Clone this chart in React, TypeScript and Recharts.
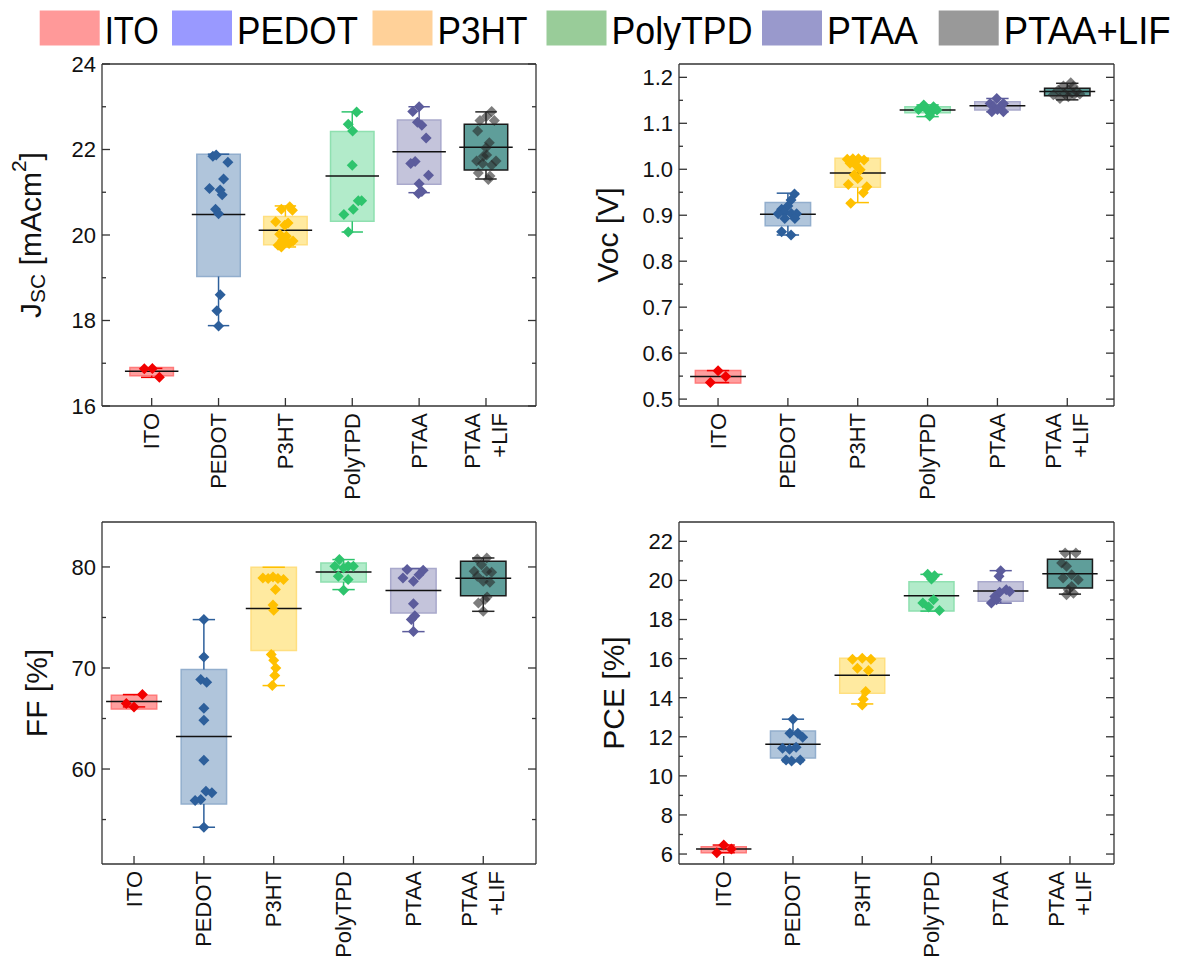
import React from 'react';
import { ComposedChart, XAxis, YAxis, Scatter, ReferenceArea, ReferenceLine, Label } from 'recharts';

const FONT = '"Liberation Sans", Arial, sans-serif';

const categories = ['ITO', 'PEDOT', 'P3HT', 'PolyTPD', 'PTAA', 'PTAA+LIF'];
const tickLabels = [['ITO'], ['PEDOT'], ['P3HT'], ['PolyTPD'], ['PTAA'], ['PTAA', '+LIF']];
const legendColors = ['#FF9999', '#9999FF', '#FFD199', '#99CC99', '#9999CC', '#999999'];
const pointColors = ['#F20000', '#2D5F9B', '#FFC000', '#2EC46D', '#5C5C9C', '#262626'];
const pointOpacity = [1, 1, 1, 1, 1, 0.6];
const boxFills = ['#FF9E9E', '#B0C5DB', '#FFEAA0', '#B2EBCA', '#C4C4DB', '#5F9E9A'];
const boxStrokes = ['#FF7A7A', '#92AECD', '#FFDF80', '#8FE0B0', '#A9A9CC', '#1A1A1A'];

// [lower whisker, Q1, median, Q3, upper whisker]
const jscBoxes = [
  [16.67, 16.71, 16.81, 16.9, 16.88],
  [17.88, 19.03, 20.48, 21.89, 21.89],
  [19.72, 19.77, 20.11, 20.43, 20.68],
  [20.07, 20.32, 21.38, 22.42, 22.88],
  [20.99, 21.19, 21.95, 22.69, 23.0],
  [21.31, 21.52, 22.05, 22.59, 22.88],
];
// [offset from category centre, value]
const jscPoints = [
  [[-0.11, 16.87], [0.01, 16.88], [0.115, 16.67]],
  [[-0.085, 21.84], [-0.035, 21.87], [0.14, 21.7], [0.075, 21.31], [-0.135, 21.09], [0.025, 21.05], [0.055, 20.94], [-0.045, 20.6], [0, 20.5], [0.025, 18.6], [-0.025, 18.23], [0, 17.87]],
  [[-0.06, 20.6], [0.065, 20.66], [0.105, 20.58], [-0.145, 20.31], [0.04, 20.28], [-0.01, 20.23], [-0.085, 20.02], [0.015, 19.97], [-0.045, 19.88], [0.115, 19.86], [-0.11, 19.76], [0.055, 19.8], [-0.06, 19.72], [-0.01, 19.82]],
  [[0.065, 22.88], [-0.06, 22.59], [0.005, 22.43], [0, 21.63], [0.09, 20.8], [0.14, 20.8], [0.015, 20.6], [-0.125, 20.48], [-0.06, 20.07]],
  [[0, 23.0], [-0.095, 22.89], [-0.025, 22.64], [0.04, 22.57], [0.105, 22.27], [-0.06, 21.72], [-0.125, 21.67], [0.14, 21.4], [0, 21.2], [0.04, 21.02], [-0.01, 20.97]],
  [[0.085, 22.89], [-0.09, 22.68], [0.01, 22.78], [0.125, 22.68], [-0.125, 22.43], [0.05, 22.16], [0, 22.04], [-0.04, 21.84], [0.01, 21.87], [-0.14, 21.73], [0.15, 21.73], [-0.05, 21.67], [0.085, 21.63], [-0.115, 21.45], [0.06, 21.38], [0.035, 21.3]],
];

const vocBoxes = [
  [0.536, 0.535, 0.549, 0.562, 0.562],
  [0.857, 0.877, 0.902, 0.9275, 0.948],
  [0.9275, 0.961, 0.992, 1.024, 1.024],
  [1.1145, 1.123, 1.129, 1.136, 1.14],
  [1.125, 1.129, 1.138, 1.147, 1.154],
  [1.151, 1.16, 1.169, 1.176, 1.187],
];
const vocPoints = [
  [[0, 0.5616], [0.11, 0.549], [-0.11, 0.536]],
  [[0.095, 0.946], [0.045, 0.933], [0, 0.92], [-0.09, 0.913], [-0.045, 0.906], [0.05, 0.904], [-0.14, 0.903], [0.125, 0.903], [-0.045, 0.893], [0.1, 0.893], [-0.09, 0.864], [0.045, 0.857]],
  [[-0.15, 1.022], [-0.07, 1.023], [0.01, 1.023], [0.09, 1.02], [-0.11, 1.013], [-0.025, 1.009], [0.035, 0.999], [-0.05, 0.988], [0, 0.98], [-0.135, 0.967], [0.13, 0.962], [0.08, 0.949], [-0.1, 0.926]],
  [[-0.055, 1.14], [0.085, 1.136], [-0.13, 1.13], [-0.01, 1.13], [0.135, 1.129], [0.04, 1.122], [0.03, 1.116]],
  [[-0.01, 1.154], [-0.105, 1.143], [0.085, 1.143], [-0.055, 1.136], [0.04, 1.135], [-0.08, 1.125], [0.085, 1.125], [0, 1.13]],
  [[0.05, 1.188], [-0.055, 1.181], [0.085, 1.18], [-0.13, 1.172], [0.015, 1.172], [0.135, 1.169], [-0.2, 1.162], [-0.035, 1.164], [0.095, 1.162], [-0.105, 1.154], [0.015, 1.158], [0.18, 1.164]],
];

const ffBoxes = [
  [66.15, 65.95, 66.68, 67.3, 67.37],
  [54.24, 56.55, 63.21, 69.84, 74.79],
  [68.26, 71.72, 75.88, 79.97, 79.97],
  [77.76, 78.52, 79.51, 80.4, 80.73],
  [73.6, 75.45, 77.66, 79.84, 79.84],
  [75.61, 77.16, 78.88, 80.56, 80.89],
];
const ffPoints = [
  [[0.12, 67.37], [-0.11, 66.48], [0, 66.15]],
  [[0, 74.79], [0, 71.1], [-0.045, 68.85], [0.04, 68.59], [0, 66.02], [0, 64.83], [0, 60.87], [0.03, 57.8], [0.115, 57.64], [-0.045, 56.98], [-0.125, 56.88], [0, 54.24]],
  [[-0.155, 78.91], [-0.08, 78.85], [-0.01, 79.01], [0.06, 78.85], [0.14, 78.75], [0.025, 77.76], [-0.01, 76.24], [0, 75.71], [-0.035, 71.33], [0, 70.77], [0.03, 70.01], [0.015, 69.25], [-0.02, 68.26]],
  [[-0.06, 80.73], [-0.125, 80.07], [0.065, 80.07], [0.14, 80.07], [0, 79.9], [-0.075, 79.08], [0.065, 78.75], [0, 77.69]],
  [[-0.09, 79.74], [0.14, 79.67], [0.08, 79.24], [-0.15, 78.91], [0, 78.58], [0, 76.37], [0.02, 75.18], [-0.03, 74.79], [0, 73.6]],
  [[-0.085, 80.79], [0.05, 80.89], [-0.025, 80.23], [-0.13, 79.57], [0.12, 79.47], [0.05, 79.57], [-0.085, 79.08], [0, 78.58], [0.095, 78.48], [0.055, 77.03], [0.025, 76.77], [-0.07, 76.44], [0, 75.61]],
];

const pceBoxes = [
  [6.07, 6.07, 6.26, 6.375, 6.46],
  [10.73, 10.92, 11.62, 12.3, 12.9],
  [13.68, 14.23, 15.15, 16.02, 16.02],
  [18.43, 18.43, 19.22, 19.93, 20.31],
  [18.84, 18.93, 19.46, 19.93, 20.5],
  [19.3, 19.61, 20.34, 21.09, 21.49],
];
const pcePoints = [
  [[0, 6.46], [-0.1, 6.07], [0.11, 6.26]],
  [[0, 12.9], [-0.045, 12.18], [0.07, 12.18], [0.14, 11.98], [-0.15, 11.41], [-0.05, 11.36], [0.045, 11.46], [-0.1, 10.81], [-0.02, 10.76], [0.105, 10.81]],
  [[-0.14, 15.97], [0, 16.02], [0.125, 15.97], [-0.07, 15.51], [0.09, 15.39], [0.05, 14.32], [0.015, 13.92], [0, 13.63]],
  [[-0.055, 20.31], [0.045, 20.24], [0, 20.07], [-0.125, 18.84], [0.03, 19.01], [-0.04, 18.64], [0.115, 18.46]],
  [[0, 20.5], [-0.025, 20.21], [0.08, 19.52], [-0.015, 19.39], [0.13, 19.44], [-0.085, 19.18], [-0.135, 18.84], [-0.06, 19.01]],
  [[-0.07, 21.4], [0.085, 21.4], [-0.12, 20.89], [-0.05, 20.72], [0.025, 20.29], [-0.1, 20.12], [0.12, 20.04], [0.025, 19.69], [-0.025, 19.52], [0.05, 19.35], [-0.05, 19.27]],
];

const catTicks = [1, 2, 3, 4, 5, 6];
const jscTicks = [16, 17, 18, 19, 20, 21, 22, 23, 24];
const jscLabeled = [16, 18, 20, 22, 24];
const vocTicks = [0.5, 0.55, 0.6, 0.65, 0.7, 0.75, 0.8, 0.85, 0.9, 0.95, 1.0, 1.05, 1.1, 1.15, 1.2];
const vocLabeled = [0.5, 0.6, 0.7, 0.8, 0.9, 1.0, 1.1, 1.2];
const ffTicks = [55, 60, 65, 70, 75, 80];
const ffLabeled = [60, 70, 80];
const pceTicks = [6, 7, 8, 9, 10, 11, 12, 13, 14, 15, 16, 17, 18, 19, 20, 21, 22];
const pceLabeled = [6, 8, 10, 12, 14, 16, 18, 20, 22];

const AXIS = '#333';
const BOX_HALF = 0.325;
const MED_HALF = 0.4;
const CAP_HALF = 0.16;

const has = (list: number[], v: number) => list.some((t) => Math.abs(t - v) < 1e-6);

function Diamond({ cx, cy, color, opacity }: any) {
  const r = 5.5;
  return (
    <polygon
      points={`${cx},${cy - r} ${cx + r},${cy} ${cx},${cy + r} ${cx - r},${cy}`}
      fill={color}
      fillOpacity={opacity}
    />
  );
}

function Panel({
  left, top, width, height, marginTop, marginRight, yAxisWidth, xAxisHeight,
  xDomain, yDomain, yTicks, yLabeled, digits, boxes, points, title, titleX,
}: any) {
  const leftTick = ({ x, y, payload }: any) => {
    const major = has(yLabeled, payload.value);
    return (
      <g>
        <line x1={x} x2={x + (major ? 8 : 4)} y1={y} y2={y} stroke={AXIS} strokeWidth={1.3} />
        {major && (
          <text x={x - 6} y={y} dy="0.36em" textAnchor="end" fontSize={22} fontFamily={FONT} fill="#111">
            {payload.value.toFixed(digits)}
          </text>
        )}
      </g>
    );
  };
  const rightTick = ({ x, y, payload }: any) => {
    const major = has(yLabeled, payload.value);
    return <line x1={x} x2={x - (major ? 8 : 4)} y1={y} y2={y} stroke={AXIS} strokeWidth={1.3} />;
  };
  const bottomTick = ({ x, y, payload }: any) => {
    const lines = tickLabels[payload.value - 1] || [];
    const ay = y + 7;
    const step = 27;
    return (
      <g>
        <line x1={x} x2={x} y1={y} y2={y - 8} stroke={AXIS} strokeWidth={1.3} />
        {lines.map((s: string, k: number) => {
          const d = (k - (lines.length - 1) / 2) * step;
          return (
            <text
              key={s}
              x={x}
              y={ay + d}
              transform={`rotate(-90 ${x} ${ay})`}
              textAnchor="end"
              dominantBaseline="central"
              fontSize={22}
              fontFamily={FONT}
              fill="#111"
            >
              {s}
            </text>
          );
        })}
      </g>
    );
  };
  const topTick = ({ x, y }: any) => (
    <line x1={x} x2={x} y1={y} y2={y + 8} stroke={AXIS} strokeWidth={1.3} />
  );
  const renderTitle = ({ viewBox }: any) => {
    const cx = viewBox.x + titleX;
    const cy = viewBox.y + viewBox.height / 2;
    return (
      <text
        x={cx}
        y={cy}
        transform={`rotate(-90 ${cx} ${cy})`}
        textAnchor="middle"
        dominantBaseline="central"
        fontSize={30}
        fontFamily={FONT}
        fill="#111"
      >
        {title}
      </text>
    );
  };

  return (
    <div style={{ position: 'absolute', left, top, width, height }}>
      <ComposedChart
        width={width}
        height={height}
        margin={{ top: marginTop - 1, right: marginRight - 1, bottom: 0, left: 0 }}
      >
        <XAxis
          type="number"
          dataKey="x"
          domain={xDomain}
          allowDataOverflow
          ticks={catTicks}
          interval={0}
          height={xAxisHeight}
          tickSize={0}
          tickMargin={0}
          tickLine={false}
          tick={bottomTick}
          axisLine={{ stroke: AXIS, strokeWidth: 1.3 }}
        />
        <XAxis
          xAxisId="top"
          orientation="top"
          type="number"
          domain={xDomain}
          allowDataOverflow
          ticks={catTicks}
          interval={0}
          height={1}
          tickSize={0}
          tickMargin={0}
          tickLine={false}
          tick={topTick}
          axisLine={{ stroke: AXIS, strokeWidth: 1.3 }}
        />
        <YAxis
          type="number"
          dataKey="y"
          domain={yDomain}
          allowDataOverflow
          ticks={yTicks}
          interval={0}
          width={yAxisWidth}
          tickSize={0}
          tickMargin={0}
          tickLine={false}
          tick={leftTick}
          axisLine={{ stroke: AXIS, strokeWidth: 1.3 }}
        >
          <Label content={renderTitle} />
        </YAxis>
        <YAxis
          yAxisId="right"
          orientation="right"
          type="number"
          domain={yDomain}
          allowDataOverflow
          ticks={yTicks}
          interval={0}
          width={1}
          tickSize={0}
          tickMargin={0}
          tickLine={false}
          tick={rightTick}
          axisLine={{ stroke: AXIS, strokeWidth: 1.3 }}
        />

        {boxes.map((b: number[], i: number) => (
          <ReferenceArea
            key={`box-${i}`}
            x1={i + 1 - BOX_HALF}
            x2={i + 1 + BOX_HALF}
            y1={b[1]}
            y2={b[3]}
            fill={boxFills[i]}
            fillOpacity={1}
            stroke={boxStrokes[i]}
            strokeWidth={1.5}
            ifOverflow="visible"
          />
        ))}
        {boxes.map((b: number[], i: number) => (
          <ReferenceLine
            key={`wl-${i}`}
            segment={[{ x: i + 1, y: b[0] }, { x: i + 1, y: b[1] }]}
            stroke={pointColors[i]}
            strokeWidth={1.5}
            ifOverflow="visible"
          />
        ))}
        {boxes.map((b: number[], i: number) => (
          <ReferenceLine
            key={`wh-${i}`}
            segment={[{ x: i + 1, y: b[3] }, { x: i + 1, y: b[4] }]}
            stroke={pointColors[i]}
            strokeWidth={1.5}
            ifOverflow="visible"
          />
        ))}
        {boxes.map((b: number[], i: number) => (
          <ReferenceLine
            key={`cl-${i}`}
            segment={[{ x: i + 1 - CAP_HALF, y: b[0] }, { x: i + 1 + CAP_HALF, y: b[0] }]}
            stroke={pointColors[i]}
            strokeWidth={1.5}
            ifOverflow="visible"
          />
        ))}
        {boxes.map((b: number[], i: number) => (
          <ReferenceLine
            key={`ch-${i}`}
            segment={[{ x: i + 1 - CAP_HALF, y: b[4] }, { x: i + 1 + CAP_HALF, y: b[4] }]}
            stroke={pointColors[i]}
            strokeWidth={1.5}
            ifOverflow="visible"
          />
        ))}

        {points.map((grp: number[][], i: number) => (
          <Scatter
            key={`pts-${i}`}
            name={categories[i]}
            data={grp.map(([dx, v]) => ({ x: i + 1 + dx, y: v }))}
            isAnimationActive={false}
            shape={(p: any) => <Diamond cx={p.cx} cy={p.cy} color={pointColors[i]} opacity={pointOpacity[i]} />}
          />
        ))}

        {boxes.map((b: number[], i: number) => (
          <ReferenceLine
            key={`med-${i}`}
            segment={[{ x: i + 1 - MED_HALF, y: b[2] }, { x: i + 1 + MED_HALF, y: b[2] }]}
            stroke="#111"
            strokeWidth={1.5}
            ifOverflow="visible"
          />
        ))}
      </ComposedChart>
    </div>
  );
}

const legendX = [39.7, 172, 372.5, 546.5, 762, 938.7];
const legendTextLen = [54, 121, 90, 141, 91, 167];

function TopLegend() {
  return (
    <svg width={1180} height={50} style={{ position: 'absolute', left: 0, top: 0 }}>
      {categories.map((c, i) => (
        <g key={c}>
          <rect x={legendX[i]} y={10.5} width={60} height={35} fill={legendColors[i]} />
          <text
            x={legendX[i] + 65}
            y={43.5}
            fontSize={38}
            fontFamily={FONT}
            fill="#000"
            textLength={legendTextLen[i]}
            lengthAdjust="spacingAndGlyphs"
          >
            {c}
          </text>
        </g>
      ))}
    </svg>
  );
}

const jscTitle = (
  <>
    J<tspan fontSize={21} dy={7}>SC</tspan>
    <tspan dy={-7}> [mAcm</tspan>
    <tspan fontSize={21} dy={-12}>2</tspan>
    <tspan dy={12}>]</tspan>
  </>
);

export default function App() {
  return (
    <div style={{ position: 'absolute', left: 0, top: 0, width: 1180, height: 967, background: '#fff', overflow: 'hidden' }}>
      <TopLegend />
      <Panel
        left={0} top={48} width={560} height={457}
        marginTop={16} marginRight={24} yAxisWidth={102} xAxisHeight={99}
        xDomain={[0.257, 6.748]} yDomain={[16, 24]}
        yTicks={jscTicks} yLabeled={jscLabeled} digits={0}
        boxes={jscBoxes} points={jscPoints} title={jscTitle} titleX={30}
      />
      <Panel
        left={570} top={48} width={570} height={457}
        marginTop={16} marginRight={26} yAxisWidth={109} xAxisHeight={99}
        xDomain={[0.441, 6.669]} yDomain={[0.485, 1.229]}
        yTicks={vocTicks} yLabeled={vocLabeled} digits={1}
        boxes={vocBoxes} points={vocPoints} title="Voc [V]" titleX={37}
      />
      <Panel
        left={0} top={505} width={560} height={462}
        marginTop={17} marginRight={24} yAxisWidth={102} xAxisHeight={103}
        xDomain={[0.5415, 6.755]} yDomain={[50.6, 84.45]}
        yTicks={ffTicks} yLabeled={ffLabeled} digits={0}
        boxes={ffBoxes} points={ffPoints} title="FF [%]" titleX={36}
      />
      <Panel
        left={570} top={505} width={570} height={462}
        marginTop={17} marginRight={26} yAxisWidth={109} xAxisHeight={103}
        xDomain={[0.354, 6.636]} yDomain={[5.49, 22.99]}
        yTicks={pceTicks} yLabeled={pceLabeled} digits={0}
        boxes={pceBoxes} points={pcePoints} title="PCE [%]" titleX={43}
      />
    </div>
  );
}
